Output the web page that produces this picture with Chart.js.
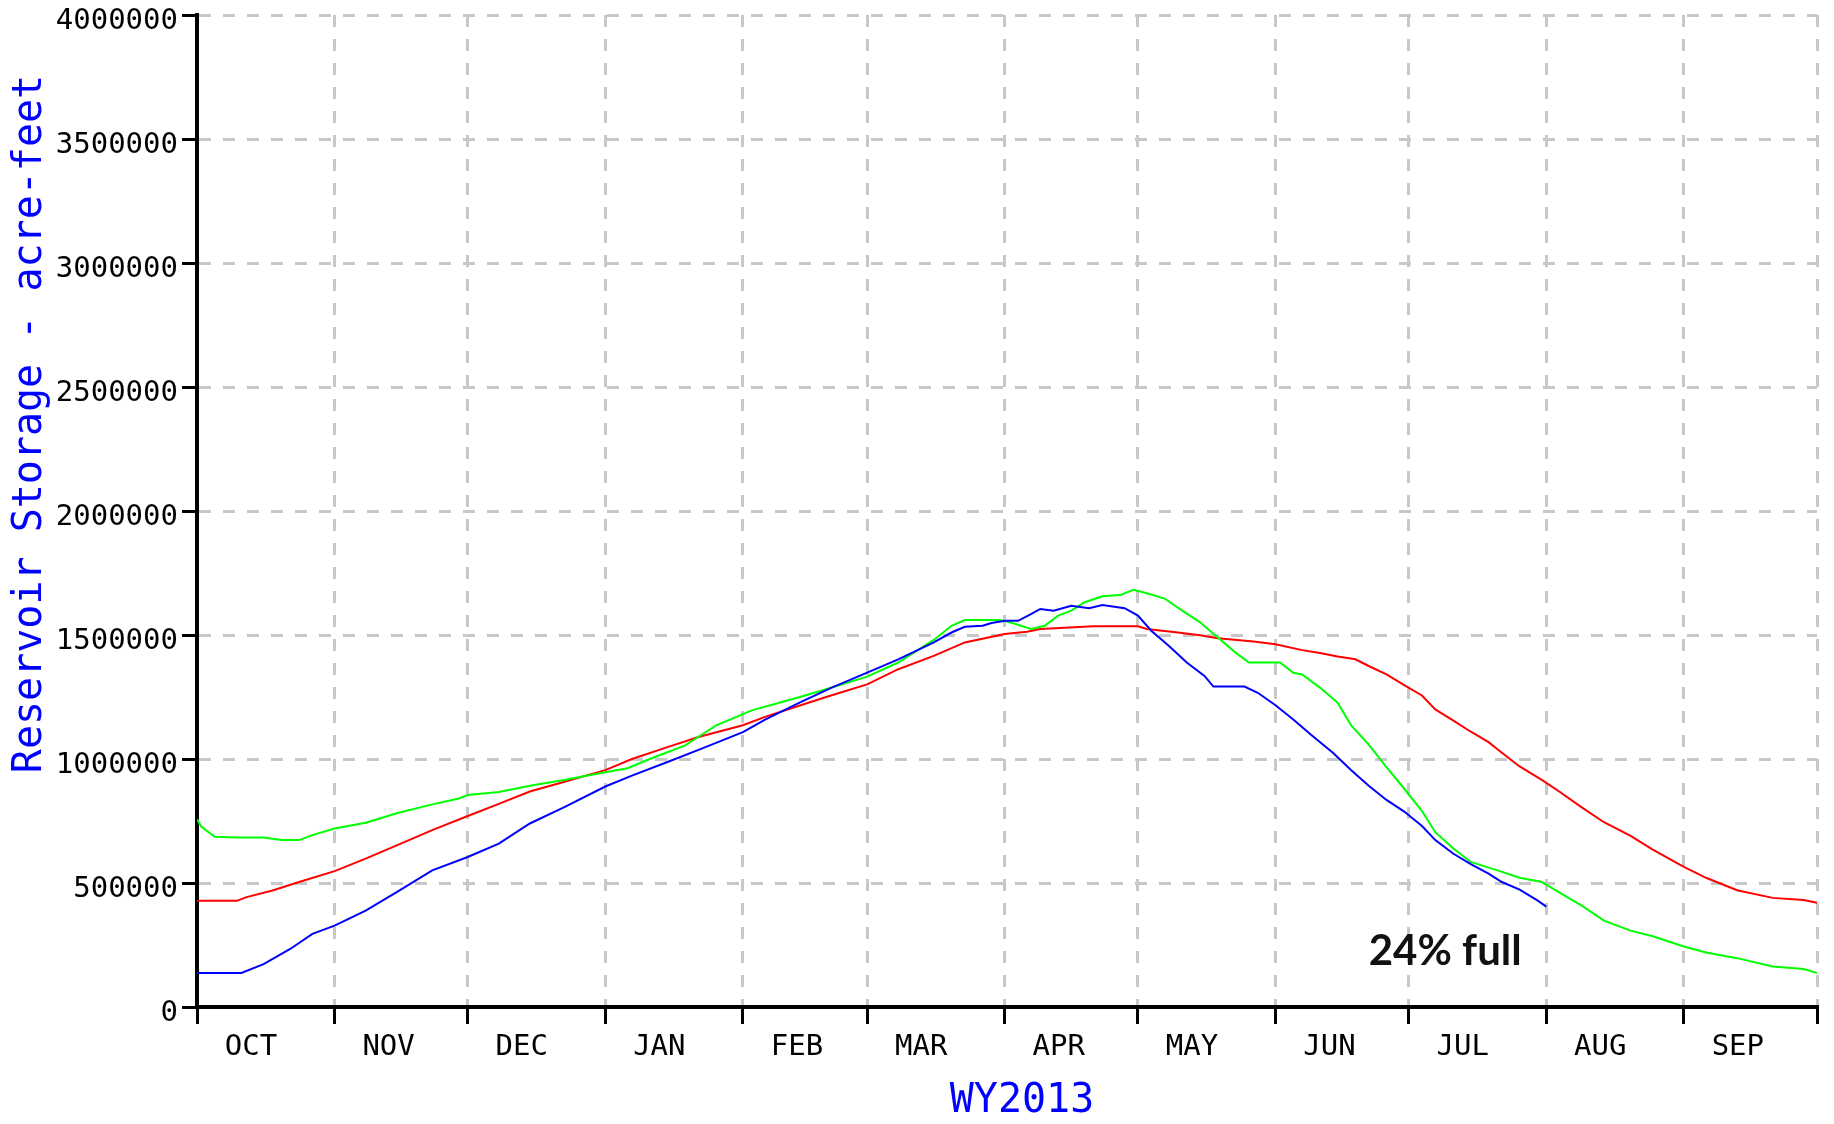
<!DOCTYPE html>
<html>
<head>
<meta charset="utf-8">
<title>Reservoir Storage WY2013</title>
<script src="https://cdn.jsdelivr.net/npm/chart.js@4"></script>
<style>
  html, body { margin: 0; padding: 0; background: #fff; }
  #wrap { width: 1834px; height: 1124px; }
</style>
</head>
<body>
<div id="wrap"><canvas id="storageChart" width="1834" height="1124"></canvas></div>
<script>
// water year days, Oct 1 = day 0
const monthStarts = [0, 31, 61, 92, 123, 151, 182, 212, 243, 273, 304, 335, 365];
const monthNames = ["OCT", "NOV", "DEC", "JAN", "FEB", "MAR", "APR", "MAY", "JUN", "JUL", "AUG", "SEP"];
const yTicks = { min: 0, max: 4000000, step: 500000 };

// current year (blue)
const wy2013Days = [0, 10, 15, 21, 26, 31, 38, 45, 53, 61, 68, 75, 83, 92, 98, 106, 113, 123, 128, 136,
  143, 151, 158, 166, 170, 173, 177, 179, 182, 185, 188, 190, 193, 195, 197, 201, 204, 209, 212, 215,
  219, 223, 227, 229, 236, 239, 243, 247, 251, 256, 260, 264, 268, 272, 276, 279, 283, 287, 291, 294,
  298, 302, 304];
const wy2013Storage = [137000, 137000, 173000, 234000, 295000, 328000, 389000, 463000, 551000, 605000,
  659000, 740000, 808000, 889000, 933000, 988000, 1037000, 1108000, 1159000, 1229000,
  1288000, 1348000, 1402000, 1470000, 1510000, 1533000, 1537000, 1548000, 1557000, 1557000,
  1585000, 1605000, 1598000, 1608000, 1618000, 1608000, 1621000, 1608000, 1578000, 1517000,
  1456000, 1389000, 1335000, 1292000, 1292000, 1267000, 1217000, 1159000, 1098000, 1024000,
  956000, 892000, 835000, 788000, 730000, 673000, 619000, 576000, 538000, 504000,
  473000, 430000, 405000];

// last year (green)
const wy2012Days = [0, 1, 4, 9, 15, 19, 23, 26, 31, 38, 45, 53, 59, 61, 68, 75, 83, 92, 97, 102,
  110, 117, 125, 130, 137, 143, 151, 158, 166, 170, 173, 181, 184, 186, 188, 191, 194, 197, 200, 204,
  208, 211, 214, 218, 222, 226, 230, 234, 237, 244, 247, 249, 253, 257, 260, 264, 268, 272, 276, 279,
  283, 287, 293, 298, 303, 307, 312, 317, 323, 328, 335, 340, 347, 355, 362, 365];
const wy2012Storage = [757000, 727000, 686000, 683000, 683000, 673000, 673000, 693000, 720000, 743000,
  781000, 817000, 841000, 855000, 867000, 892000, 916000, 947000, 963000, 1000000,
  1055000, 1136000, 1196000, 1221000, 1256000, 1288000, 1332000, 1389000, 1480000, 1537000,
  1560000, 1560000, 1547000, 1535000, 1524000, 1537000, 1578000, 1598000, 1632000, 1656000,
  1661000, 1682000, 1668000, 1647000, 1598000, 1551000, 1490000, 1429000, 1389000, 1389000,
  1348000, 1341000, 1288000, 1227000, 1136000, 1058000, 967000, 880000, 790000, 705000,
  640000, 585000, 551000, 521000, 504000, 461000, 409000, 348000, 308000, 285000,
  244000, 220000, 197000, 163000, 153000, 137000];

// average (red)
const avgDays = [0, 9, 11, 17, 23, 31, 38, 45, 53, 61, 68, 75, 83, 92, 98, 106, 113, 123, 128, 136,
  143, 151, 158, 166, 173, 182, 187, 190, 202, 212, 214, 221, 226, 230, 238, 243, 249, 253, 257, 261,
  264, 268, 272, 276, 279, 283, 287, 291, 294, 298, 303, 307, 312, 317, 323, 328, 335, 340, 347, 355,
  362, 365];
const avgStorage = [428000, 428000, 442000, 470000, 504000, 548000, 598000, 652000, 713000, 770000,
  819000, 869000, 909000, 955000, 1000000, 1048000, 1089000, 1136000, 1170000, 1217000,
  1257000, 1301000, 1362000, 1416000, 1470000, 1504000, 1513000, 1524000, 1535000, 1535000,
  1524000, 1510000, 1499000, 1487000, 1474000, 1463000, 1439000, 1427000, 1413000, 1402000,
  1375000, 1341000, 1298000, 1256000, 1200000, 1156000, 1110000, 1068000, 1025000, 970000,
  916000, 868000, 805000, 745000, 690000, 635000, 565000, 521000, 471000, 440000,
  431000, 420000];

const xTitle = "WY2013";
const yTitle = "Reservoir Storage - acre-feet";
const noteText = "24% full";
const noteDay = 264;
const noteValue = 170000;

const toPoints = (days, vals) => days.map((d, i) => ({ x: d, y: vals[i] }));

const monoFont = '"DejaVu Sans Mono", "Liberation Mono", monospace';

const textPlugin = {
  id: "texts",
  afterDraw(chart) {
    const c = chart.ctx;
    const x = chart.scales.x, y = chart.scales.y;
    c.save();
    c.fillStyle = "#0000ff";
    c.font = "40px " + monoFont;
    c.textAlign = "center";
    c.textBaseline = "middle";
    c.fillText(xTitle, 1022, 1102);
    c.translate(31, 424);
    c.rotate(-Math.PI / 2);
    c.fillText(yTitle, 0, 0);
    c.restore();

    c.save();
    c.fillStyle = "#111";
    c.font = 'bold 42px Lato, "Open Sans", sans-serif';
    c.textAlign = "left";
    c.textBaseline = "alphabetic";
    c.fillText(noteText, x.getPixelForValue(noteDay), y.getPixelForValue(noteValue));
    c.restore();
  }
};

const ctx = document.getElementById("storageChart").getContext("2d");

new Chart(ctx, {
  type: "line",
  data: {
    datasets: [
      { label: "WY2013", data: toPoints(wy2013Days, wy2013Storage), borderColor: "#0000ff" },
      { label: "WY2012", data: toPoints(wy2012Days, wy2012Storage), borderColor: "#00ff00" },
      { label: "Average", data: toPoints(avgDays, avgStorage), borderColor: "#ff0000" }
    ]
  },
  options: {
    responsive: false,
    animation: false,
    devicePixelRatio: 1,
    layout: { padding: { top: 15, right: 17, left: 0, bottom: 0 } },
    elements: {
      point: { radius: 0 },
      line: { borderWidth: 2, tension: 0, fill: false }
    },
    plugins: {
      legend: { display: false },
      tooltip: { enabled: false }
    },
    scales: {
      x: {
        type: "linear",
        min: 0,
        max: 365,
        afterBuildTicks: (s) => { s.ticks = monthStarts.map((v) => ({ value: v })); },
        afterFit: (s) => { s.height = 117; s.paddingLeft = 0; s.paddingRight = 0; },
        ticks: {
          autoSkip: false,
          maxRotation: 0,
          minRotation: 0,
          labelOffset: 54,
          padding: 6,
          color: "#000",
          font: { family: monoFont, size: 29 },
          callback: (v, i) => monthNames[i] || ""
        },
        grid: {
          color: "#c8c8c8",
          lineWidth: 3,
          tickColor: "#000",
          tickWidth: 3,
          tickLength: 17,
          tickBorderDash: []
        },
        border: { display: true, color: "#000", width: 4, dash: [12, 12] }
      },
      y: {
        min: yTicks.min,
        max: yTicks.max,
        afterFit: (s) => { s.width = 197; s.paddingTop = 0; s.paddingBottom = 0; },
        ticks: {
          stepSize: yTicks.step,
          padding: 4,
          labelOffset: 6,
          color: "#000",
          font: { family: monoFont, size: 29 },
          callback: (v) => String(v)
        },
        grid: {
          color: "#c8c8c8",
          lineWidth: 3,
          tickColor: "#000",
          tickWidth: 3,
          tickLength: 15,
          tickBorderDash: []
        },
        border: { display: true, color: "#000", width: 4, dash: [12, 12] }
      }
    }
  },
  plugins: [textPlugin]
});
</script>
</body>
</html>
